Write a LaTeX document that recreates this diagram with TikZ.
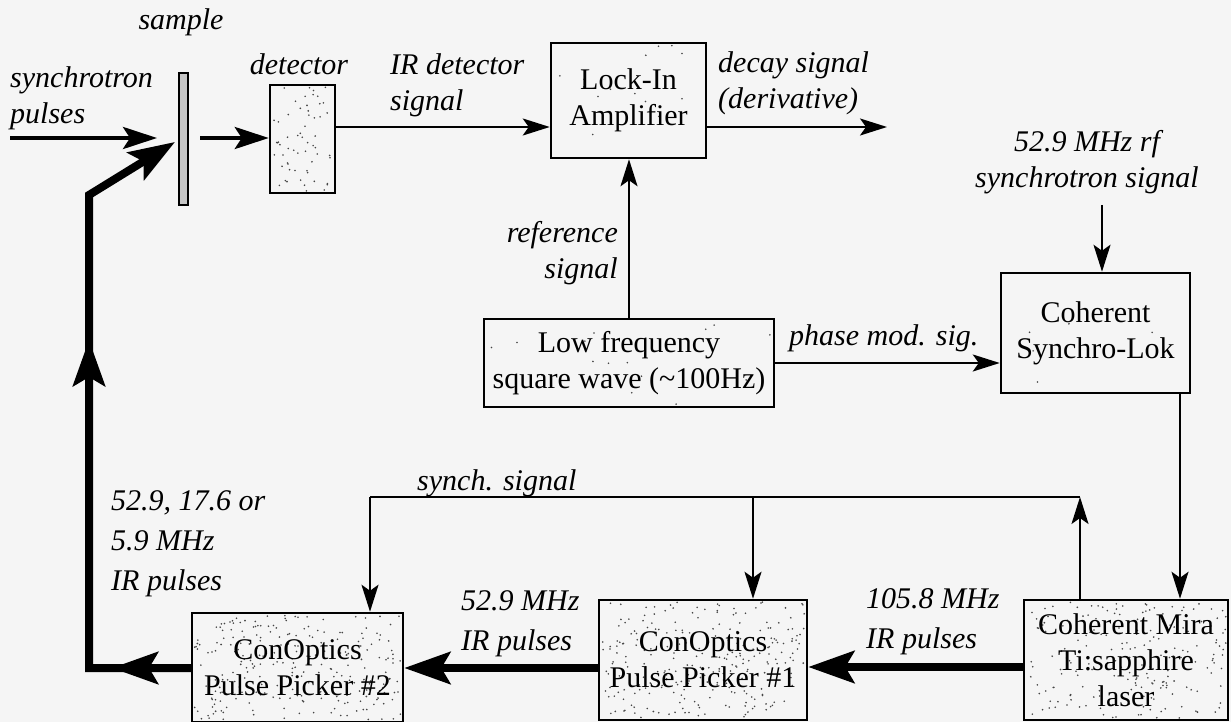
\documentclass[tikz,border=0pt]{standalone}
\usepackage{fontspec}
\setmainfont{Liberation Serif}
\usetikzlibrary{arrows.meta,calc}
\definecolor{bgcol}{RGB}{245,245,245}
\definecolor{dotcol}{RGB}{70,70,70}
\newcommand\txl[1]{\begin{tabular}[t]{@{}l@{}}#1\end{tabular}}
\newcommand\txc[1]{\begin{tabular}[t]{@{}c@{}}#1\end{tabular}}
\newcommand\txr[1]{\begin{tabular}[t]{@{}r@{}}#1\end{tabular}}
\newcommand\stip[5]{%
  \foreach \k in {1,...,#5}{\fill[dotcol] ({#1+rand*#3},{#2+rand*#4}) circle (0.9pt);}}
\tikzset{
  boxnode/.style={draw, line width=2.5pt, align=center, inner sep=0pt,
    font=\fontsize{30}{36}\selectfont},
  lbl/.style={inner sep=0pt, font=\fontsize{30}{36}\selectfont\itshape},
  lblwide/.style={inner sep=0pt, font=\fontsize{30}{40}\selectfont\itshape},
  thinline/.style={line width=2pt},
  thinarr/.style={line width=2pt, -{Stealth[length=27pt,width=17pt,inset=6pt]}},
  medarr/.style={line width=4pt, -{Stealth[length=34pt,width=22pt,inset=7pt]}},
  thickline/.style={line width=8pt, line join=miter},
  thickarr/.style={line width=8pt, line join=miter, -{Stealth[length=46pt,width=32pt,inset=9pt]}},
  samplebar/.style={draw, line width=1.5pt, fill=gray!45, minimum width=9pt,
    minimum height=132pt, inner sep=0pt}
}
\begin{document}
\begin{tikzpicture}[x=1pt,y=-1pt]
\fill[bgcol] (0,0) rectangle (1231,722);
\useasboundingbox (0,0) rectangle (1231,722);
\pgfmathsetseed{7}
% stipple
\stip{302.5}{139}{30}{52}{60}
\stip{297.5}{667.5}{103}{52}{260}
\stip{703}{660}{102}{58}{260}
\stip{1126}{660}{100}{58}{200}
\stip{628.5}{100.5}{75}{55}{14}
\stip{629}{363}{142}{42}{18}
\stip{1095.5}{333}{92}{58}{5}
% boxes
\node[samplebar] (samp) at (183.5,139) {};
\node[boxnode, minimum width=65pt, minimum height=108pt] (det) at (302.5,139) {};
\node[boxnode, minimum width=155pt, minimum height=115pt] (lock) at (628.5,100.5) {Lock-In\\Amplifier};
\node[boxnode, minimum width=290pt, minimum height=88pt] (low) at (629,363) {Low frequency\\square wave (\textasciitilde100Hz)};
\node[boxnode, minimum width=189pt, minimum height=120pt] (sync) at (1095.5,333) {Coherent\\Synchro-Lok};
\node[boxnode, minimum width=211pt, minimum height=109pt] (pp2) at (297.5,667.5) {ConOptics\\Pulse Picker \#2};
\node[boxnode, minimum width=208pt, minimum height=120pt] (pp1) at (703,660) {ConOptics\\Pulse Picker \#1};
\node[boxnode, minimum width=204pt, minimum height=120pt] (mira) at (1126,660) {Coherent Mira\\Ti:sapphire\\laser};
% labels
\node[lbl, anchor=base] (lsample) at (181,30) {sample};
\node[lbl, anchor=base west] (lsyn) at (10,88) {\txl{synchrotron\\pulses}};
\node[lbl, anchor=base] (ldet) at (299,75) {detector};
\node[lbl, anchor=base west] (lirdet) at (390,75) {\txl{IR detector\\signal}};
\node[lbl, anchor=base west] (ldecay) at (718,73) {\txl{decay signal\\(derivative)}};
\node[lbl, anchor=base] (lrf) at (1087,152) {\txc{52.9 MHz rf\\synchrotron signal}};
\node[lbl, anchor=base east] (lref) at (618,242) {\txr{reference\\signal}};
\node[lbl, anchor=base west] (lphase) at (789,345) {phase mod. sig.};
\node[lbl, anchor=base west] (lsynch) at (417,490) {synch. signal};
\node[lblwide, anchor=base west] (lout) at (111,510) {\txl{52.9, 17.6 or\\5.9 MHz\\IR pulses}};
\node[lblwide, anchor=base west] (l529) at (461,610) {\txl{52.9 MHz\\IR pulses}};
\node[lblwide, anchor=base west] (l1058) at (866,608) {\txl{105.8 MHz\\IR pulses}};
% coordinates
\coordinate (synin) at (10,138);
\coordinate (synend) at (157,138);
\coordinate (sampout) at (200,138);
\coordinate (c1) at (89,668);
\coordinate (m1) at (112,668);
\coordinate (c2) at (89,195);
\coordinate (m2) at (89,340);
\coordinate (c3) at (175,142);
\coordinate (y127) at (0,127);
\coordinate (y667) at (0,667);
\coordinate (outend) at (887,127);
\coordinate (rfin) at (1102,205);
\coordinate (xs) at (1180,0);
\coordinate (sl) at (370,497);
\coordinate (sm) at (753,497);
\coordinate (sr) at (1080,497);
% connectors
\draw[medarr] (synin) -- (synend);
\draw[medarr] (sampout) -- (sampout -| det.west);
\draw[thinarr] (det.east |- y127) -- (lock.west |- y127);
\draw[thinarr] (lock.east |- y127) -- (outend);
\draw[thinarr] (low.north) -- (low.north |- lock.south);
\draw[thinarr] (rfin) -- (rfin |- sync.north);
\draw[thinarr] (low.east) -- (low.east -| sync.west);
\draw[thinarr] (sync.south -| xs) -- (mira.north -| xs);
\draw[thinarr] (mira.north -| sr) -- (sr);
\draw[thinline] (sr) -- (sl);
\draw[thinarr] (sl) -- (sl |- pp2.north);
\draw[thinarr] (sm) -- (sm |- pp1.north);
\draw[thickarr] (mira.west |- y667) -- (pp1.east |- y667);
\draw[thickarr] (pp1.west |- c1) -- (pp2.east |- c1);
\draw[thickarr] (pp2.west |- c1) -- (c1) -- (c2) -- (c3);
\draw[thickarr] (pp2.west |- c1) -- (m1);
\draw[thickarr] (c1) -- (m2);
\end{tikzpicture}
\end{document}
